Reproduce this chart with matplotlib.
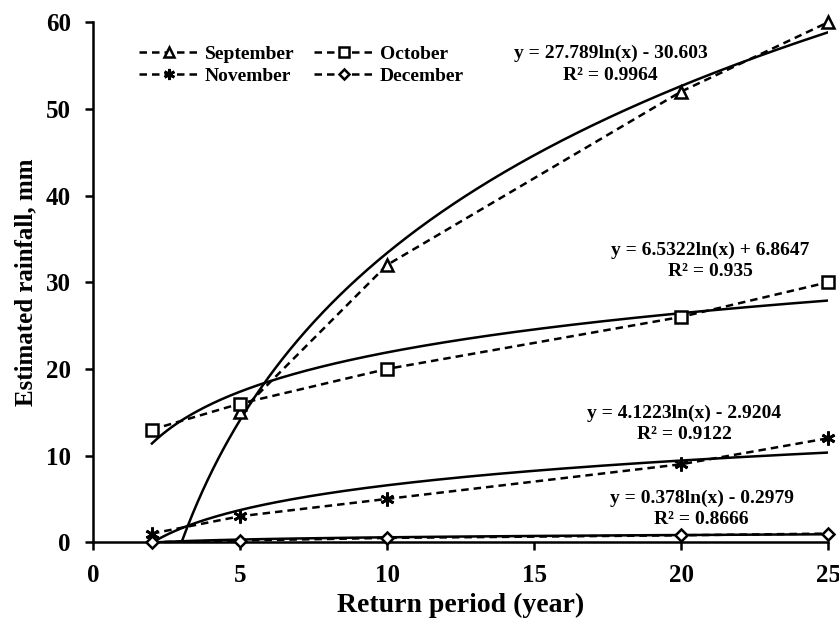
import numpy as np
import matplotlib
matplotlib.use("Agg")
import matplotlib.pyplot as plt

plt.rcParams['font.family'] = ['Liberation Serif', 'DejaVu Serif']
plt.rcParams['font.weight'] = 'bold'

return_period = [2, 5, 10, 20, 25]
september = [np.nan, 15, 32, 52, 60]
october = [13, 16, 20, 26, 30]
november = [1, 3, 5, 9, 12]
december = [0, 0.2, 0.5, 0.8, 1.0]

fits = {
    'September': (27.789, -30.603, 0.9964),
    'October': (6.5322, 6.8647, 0.935),
    'November': (4.1223, -2.9204, 0.9122),
    'December': (0.378, -0.2979, 0.8666),
}
labels_pos = {
    'September': (17.6, 56.4, 53.9),
    'October': (21.0, 33.7, 31.2),
    'November': (20.1, 14.9, 12.4),
    'December': (20.7, 5.1, 2.6),
}

fig = plt.figure(figsize=(8.39, 6.19), dpi=100)
ax = fig.add_axes([0.111, 0.124, 0.876, 0.840])

series = [('September', september, '^'), ('October', october, 's'),
          ('November', november, 'x'), ('December', december, 'D')]
handles = {}
for name, vals, mk in series:
    if mk == 'x':
        h, = ax.plot(return_period, vals, linestyle=(0, (3, 2)), color='black', lw=1.8,
                     marker=(6, 2, 0), markersize=10, markeredgewidth=2, label=name,
                     zorder=3, clip_on=False)
    else:
        ms = 9 if mk != 'D' else 6
        h, = ax.plot(return_period, vals, linestyle=(0, (3, 2)), color='black', lw=1.8,
                     marker=mk, markersize=ms, markerfacecolor='white', markeredgecolor='black',
                     markeredgewidth=1.8, label=name, zorder=3, clip_on=False)
    handles[name] = h

xs = np.linspace(2, 25, 400)
for name, (a, b, r2) in fits.items():
    ax.plot(xs, a * np.log(xs) + b, color='black', lw=1.8, zorder=2)
    tx, ty1, ty2 = labels_pos[name]
    sign = '-' if b < 0 else '+'
    ax.text(tx, ty1, f"y = {a}ln(x) {sign} {abs(b)}",
            ha='center', va='center', fontsize=14, fontweight='bold')
    ax.text(tx, ty2, f"R² = {r2}", ha='center', va='center', fontsize=14, fontweight='bold')

ax.set_xlim(0, 25)
ax.set_ylim(0, 60)
ax.set_xticks([0, 5, 10, 15, 20, 25])
ax.set_yticks([0, 10, 20, 30, 40, 50, 60])
for s in ['top', 'right']:
    ax.spines[s].set_visible(False)
for s in ['left', 'bottom']:
    ax.spines[s].set_linewidth(1.8)
ax.tick_params(axis='both', direction='out', width=1.8, length=6, labelsize=18)
ax.tick_params(axis='x', pad=10)
ax.tick_params(axis='y', pad=10)
for lab in ax.get_xticklabels() + ax.get_yticklabels():
    lab.set_fontweight('bold')
ax.set_xlabel('Return period (year)', fontsize=20, fontweight='bold', labelpad=4)
ax.set_ylabel('Estimated rainfall, mm', fontsize=18, fontweight='bold', labelpad=6)

order = ['September', 'November', 'October', 'December']
leg = ax.legend([handles[n] for n in order], order, loc='upper left',
                bbox_to_anchor=(0.038, 0.99), ncol=2, frameon=False,
                prop={'weight': 'bold', 'size': 14}, handlelength=3.1, columnspacing=1.0,
                handletextpad=0.3, labelspacing=0.25, markerscale=0.8)
fig.savefig('out.png', dpi=100)
